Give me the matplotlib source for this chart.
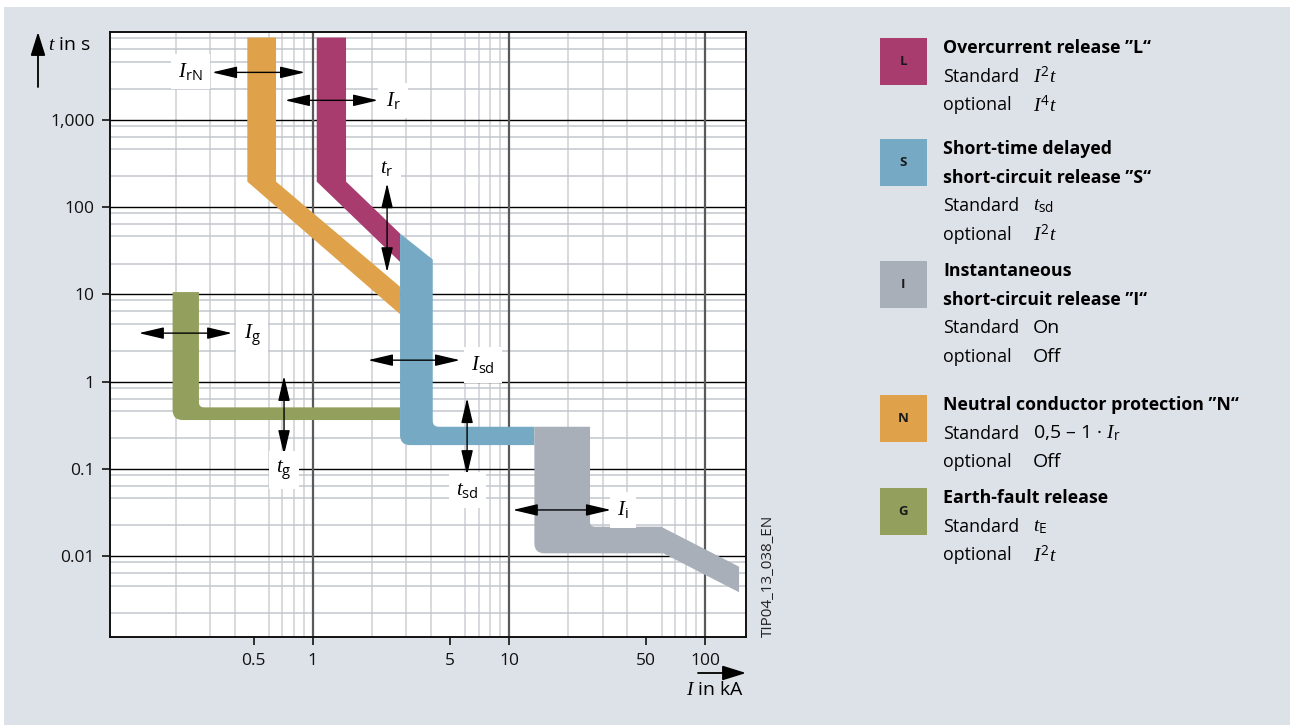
import numpy as np
import matplotlib
matplotlib.use('Agg')
import matplotlib.pyplot as plt
from matplotlib.path import Path
from matplotlib.patches import PathPatch, Rectangle
from matplotlib.ticker import FixedLocator, LogLocator, NullFormatter

plt.rcParams['font.family'] = 'Open Sans'
plt.rcParams['mathtext.fontset'] = 'custom'
plt.rcParams['mathtext.it'] = 'Liberation Serif:italic'
plt.rcParams['mathtext.rm'] = 'Open Sans'
plt.rcParams['mathtext.bf'] = 'Open Sans:bold'

# Release bands: outline vertices (current in kA, time in s)
N_I = [0.464, 0.650, 0.650, 2.786, 2.786, 0.464]
N_t = [8700, 8700, 195, 12.2, 5.92, 195]
L_I = [1.048, 1.478, 1.478, 2.786, 2.786, 1.048]
L_t = [8700, 8700, 195, 49.6, 23.5, 195]
G_I = [0.193, 0.263, 0.263, 2.786, 2.786, 0.193]
G_t = [10.6, 10.6, 0.507, 0.507, 0.363, 0.363]
S_I = [2.786, 4.09, 4.09, 13.48, 13.48, 2.786]
S_t = [49.6, 25.0, 0.304, 0.304, 0.1875, 0.1875]
I_I = [13.48, 25.9, 25.9, 59.6, 148.9, 148.9, 61.2, 13.48]
I_t = [0.304, 0.304, 0.0218, 0.0218, 0.0076, 0.00387, 0.0108, 0.0108]

# Setting arrows and their labels
arrow_labels = [r'$I_{\mathrm{rN}}$', r'$I_{\mathrm{r}}$', r'$t_{\mathrm{r}}$', r'$I_{\mathrm{g}}$',
                r'$t_{\mathrm{g}}$', r'$I_{\mathrm{sd}}$', r'$t_{\mathrm{sd}}$', r'$I_{\mathrm{i}}$']
label_I = [0.237, 2.57, 2.393, 0.491, 0.714, 7.38, 6.12, 38.1]
label_t = [3575, 1663, 284, 3.4, 0.097, 1.55, 0.0574, 0.0339]
arrow_I0 = [0.307, 0.722, 2.393, 0.130, 0.714, 1.913, 6.12, 10.47]
arrow_I1 = [0.913, 2.15, 2.393, 0.388, 0.714, 5.63, 6.12, 33.1]
arrow_t0 = [3475, 1663, 186.7, 3.59, 1.16, 1.76, 0.647, 0.0339]
arrow_t1 = [3475, 1663, 17.9, 3.59, 0.144, 1.76, 0.085, 0.0339]

x_ticks = [0.5, 1, 5, 10, 50, 100]
x_ticklabels = ['0.5', '1', '5', '10', '50', '100']
y_ticks = [0.01, 0.1, 1, 10, 100, 1000]
y_ticklabels = ['0.01', '0.1', '1', '10', '100', '1,000']
x_decades = [1, 10, 100]

# Legend entries
legend_keys = ['L', 'S', 'I', 'N', 'G']
legend_titles = [['Overcurrent release ”L“'],
                 ['Short-time delayed', 'short-circuit release ”S“'],
                 ['Instantaneous', 'short-circuit release ”I“'],
                 ['Neutral conductor protection ”N“'],
                 ['Earth-fault release']]
legend_standard = [r'$I^2t$', r'$t_{\mathrm{sd}}$', 'On', r'0,5 – 1 · $I_{\mathrm{r}}$', r'$t_{\mathrm{E}}$']
legend_optional = [r'$I^4t$', r'$I^2t$', 'Off', 'Off', r'$I^2t$']

colors = {'L': '#a83c6f', 'S': '#76a9c3', 'I': '#a9afb8', 'N': '#dfa24a', 'G': '#939f5c'}
bg = '#dde1e8'

W, H = 1290, 725
fx = lambda px: px / W
fy = lambda py: 1 - py / H

fig = plt.figure(figsize=(W / 100, H / 100), dpi=100, facecolor='white')
fig.patches.append(Rectangle((fx(4), 0), 1, fy(7), transform=fig.transFigure,
                             facecolor=bg, edgecolor='none', zorder=-10))

ax = fig.add_axes([fx(110), fy(637.3), fx(745.7) - fx(110), fy(32.3) - fy(637.3)])
ax.set_xscale('log')
ax.set_yscale('log')
ax.set_xlim(0.0926, 161)
ax.set_ylim(0.00118, 10000)
ax.set_facecolor('white')
ax.set_axisbelow(True)

# grid
ax.xaxis.set_minor_locator(LogLocator(base=10, subs=np.arange(2, 10)))
ax.yaxis.set_minor_locator(LogLocator(base=10, subs=[2.25, 4.6, 6.4, 8.5]))
ax.xaxis.set_minor_formatter(NullFormatter())
ax.yaxis.set_minor_formatter(NullFormatter())
ax.grid(which='minor', axis='x', color='#cdd0d5', lw=1.1)
ax.grid(which='minor', axis='y', color='#c2c6cc', lw=1.1)
ax.tick_params(which='minor', length=0)
for d in x_decades:
    ax.axvline(d, color='#5a5a5a', lw=1.6, zorder=0.6)

ax.xaxis.set_major_locator(FixedLocator(x_ticks))
ax.set_xticklabels(x_ticklabels)
ax.yaxis.set_major_locator(FixedLocator(y_ticks))
ax.set_yticklabels(y_ticklabels)
ax.grid(which='major', axis='y', color='black', lw=1.0)
ax.tick_params(which='major', length=6, width=1.2, labelsize=12.5, pad=5, colors='#111111')
for tick, v in zip(ax.xaxis.get_major_ticks(), x_ticks):
    if v not in x_decades:
        tick.tick1line.set_color('#b8bcc2')
    else:
        tick.tick1line.set_color('#5a5a5a')
for s in ax.spines.values():
    s.set_linewidth(1.4)
    s.set_color('#111111')


def band(I, t, color, radii=None):
    pts = ax.transData.transform(np.column_stack([I, t]))
    n = len(pts)
    radii = radii or [0] * n
    verts, codes = [], []
    for k in range(n):
        p = pts[k]
        r = radii[k]
        if r == 0:
            verts.append(p)
            codes.append(Path.LINETO)
        else:
            a = pts[k - 1] - p
            b = pts[(k + 1) % n] - p
            a = a / np.hypot(*a)
            b = b / np.hypot(*b)
            verts += [p + r * a, p, p + r * b]
            codes += [Path.LINETO, Path.CURVE3, Path.CURVE3]
    codes[0] = Path.MOVETO
    verts.append(verts[0])
    codes.append(Path.CLOSEPOLY)
    data = ax.transData.inverted().transform(np.array(verts))
    ax.add_patch(PathPatch(Path(data, codes), facecolor=color, edgecolor='none', zorder=2))


band(N_I, N_t, colors['N'])
band(L_I, L_t, colors['L'])
band(G_I, G_t, colors['G'], [0, 0, 5, 0, 0, 10])
band(S_I, S_t, colors['S'], [0, 0, 6, 0, 0, 10])
band(I_I, I_t, colors['I'], [0, 0, 5, 0, 0, 0, 0, 10])

for lab, li, lt, i0, i1, t0, t1 in zip(arrow_labels, label_I, label_t,
                                       arrow_I0, arrow_I1, arrow_t0, arrow_t1):
    ax.annotate('', xy=(i1, t1), xytext=(i0, t0),
                arrowprops=dict(arrowstyle='<|-|>,head_length=0.85,head_width=0.2',
                                color='black', lw=1.0, mutation_scale=18,
                                shrinkA=0, shrinkB=0), zorder=4)
    ax.text(li, lt, lab, fontsize=15, ha='center', va='center', zorder=5,
            bbox=dict(boxstyle='square,pad=0.35', fc='white', ec='none'))

# axis titles with arrows
fig.text(fx(48), fy(45), r'$t$ in s', fontsize=14, ha='left', va='center')
ax.annotate('', xy=(fx(38), fy(32)), xycoords='figure fraction',
            xytext=(fx(38), fy(87)), textcoords='figure fraction',
            arrowprops=dict(arrowstyle='-|>,head_length=0.8,head_width=0.25',
                            color='black', lw=1.3, mutation_scale=18, shrinkA=0, shrinkB=0))
fig.text(fx(744), fy(690), r'$I$ in kA', fontsize=14, ha='right', va='center')
ax.annotate('', xy=(fx(746), fy(673)), xycoords='figure fraction',
            xytext=(fx(698), fy(673)), textcoords='figure fraction',
            arrowprops=dict(arrowstyle='-|>,head_length=0.8,head_width=0.25',
                            color='black', lw=1.3, mutation_scale=18, shrinkA=0, shrinkB=0))
fig.text(fx(768), fy(637), 'TIP04_13_038_EN', rotation=90, fontsize=11,
         ha='center', va='bottom', color='#222222')

# legend on the right
box_top = [38, 139, 261, 395, 488]
row_h = 28.6
for key, top, titles, std, opt in zip(legend_keys, box_top, legend_titles,
                                      legend_standard, legend_optional):
    fig.patches.append(Rectangle((fx(880), fy(top + 47)), fx(47), fy(top) - fy(top + 47),
                                 transform=fig.transFigure, facecolor=colors[key],
                                 edgecolor='none'))
    fig.text(fx(903.5), fy(top + 23.5), key, fontsize=9.5, fontweight='bold',
             ha='center', va='center', color='#1a1a1a')
    y = top + 10
    for tl in titles:
        fig.text(fx(943), fy(y), tl, fontsize=12.8, fontweight='bold', ha='left', va='center')
        y += row_h
    for head, val in [('Standard', std), ('optional', opt)]:
        fig.text(fx(943), fy(y), head, fontsize=12.8, ha='left', va='center')
        fig.text(fx(1033), fy(y), val, fontsize=14, ha='left', va='center')
        y += row_h

fig.savefig('out.png', dpi=100, facecolor=fig.get_facecolor())
